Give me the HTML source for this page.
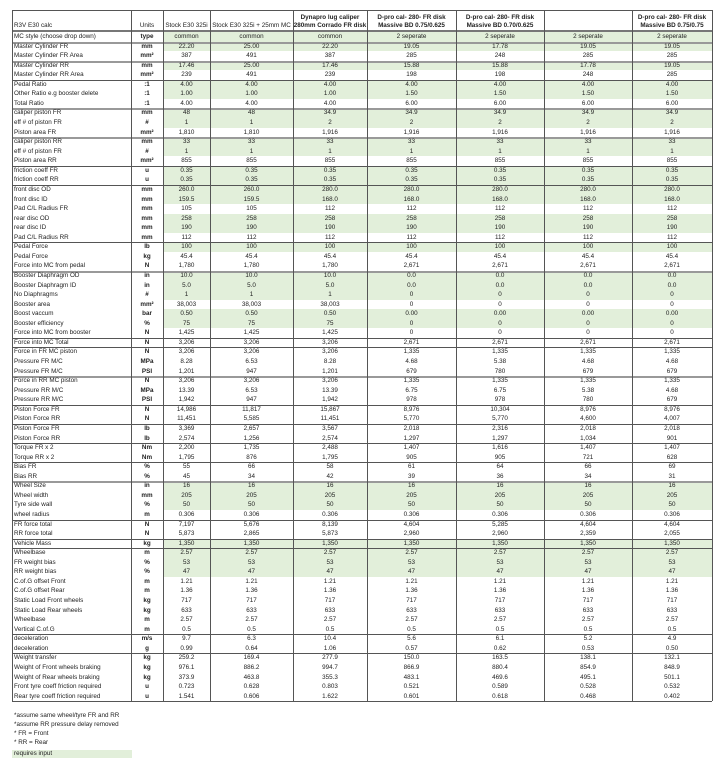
<!DOCTYPE html>
<html><head><meta charset="utf-8"><style>
body{margin:0;background:#fff;width:725px;height:768px;overflow:hidden;position:relative;font-family:"Liberation Sans Narrow","Liberation Sans",sans-serif;color:#222;font-size:6.3px}
.c{position:absolute;white-space:nowrap;overflow:hidden;text-align:center}
.l{text-align:left;padding-left:2px;box-sizing:border-box}
.b{font-weight:bold}
.g{position:absolute;background:#e2efda}
.hl{position:absolute;left:12px;width:700px}
.vl{position:absolute;width:1px;background:#555}
.n{position:absolute;left:14px}
</style></head><body>
<div id="root"></div>
<div class="n" style="top:712px">*assume same wheel/tyre FR and RR</div>
<div class="n" style="top:721px">*assume RR pressure delay removed</div>
<div class="n" style="top:730px">* FR = Front</div>
<div class="n" style="top:739px">* RR = Rear</div>
<div class="n" style="top:750px;left:12px;width:118px;padding-left:2px;height:8px;line-height:8px;background:#e2efda">requires input</div>
<script>
var X=[12,131,163,210,293,367,456,544,632,712];
var R=[
["MC style (choose drop down)","type",1,"",["common","common","common","2 seperate","2 seperate","2 seperate","2 seperate"]],
["Master Cylinder FR","mm",1,"d",["22.20","25.00","22.20","19.05","17.78","19.05","19.05"]],
["Master Cylinder FR Area","mm²",0,"",["387","491","387","285","248","285","285"]],
["Master Cylinder RR","mm",1,"d",["17.46","25.00","17.46","15.88","15.88","17.78","19.05"]],
["Master Cylinder RR Area","mm²",0,"",["239","491","239","198","198","248","285"]],
["Pedal Ratio",":1",1,"s",["4.00","4.00","4.00","4.00","4.00","4.00","4.00"]],
["Other Ratio e.g booster delete",":1",1,"",["1.00","1.00","1.00","1.50","1.50","1.50","1.50"]],
["Total Ratio",":1",0,"",["4.00","4.00","4.00","6.00","6.00","6.00","6.00"]],
["caliper piston FR","mm",1,"d",["48","48","34.9","34.9","34.9","34.9","34.9"]],
["eff # of piston FR","#",1,"",["1","1","2","2","2","2","2"]],
["Piston area FR","mm²",0,"",["1,810","1,810","1,916","1,916","1,916","1,916","1,916"]],
["caliper piston RR","mm",1,"d",["33","33","33","33","33","33","33"]],
["eff # of piston FR","#",1,"",["1","1","1","1","1","1","1"]],
["Piston area RR","mm²",0,"",["855","855","855","855","855","855","855"]],
["friction coeff FR","u",1,"s",["0.35","0.35","0.35","0.35","0.35","0.35","0.35"]],
["friction coeff RR","u",1,"",["0.35","0.35","0.35","0.35","0.35","0.35","0.35"]],
["front disc OD","mm",1,"s",["260.0","260.0","280.0","280.0","280.0","280.0","280.0"]],
["front disc ID","mm",1,"",["159.5","159.5","168.0","168.0","168.0","168.0","168.0"]],
["Pad C/L Radius FR","mm",0,"",["105","105","112","112","112","112","112"]],
["rear disc OD","mm",1,"",["258","258","258","258","258","258","258"]],
["rear disc ID","mm",1,"",["190","190","190","190","190","190","190"]],
["Pad C/L Radius RR","mm",0,"",["112","112","112","112","112","112","112"]],
["Pedal Force","lb",1,"s",["100","100","100","100","100","100","100"]],
["Pedal Force","kg",0,"",["45.4","45.4","45.4","45.4","45.4","45.4","45.4"]],
["Force into MC from pedal","N",0,"",["1,780","1,780","1,780","2,671","2,671","2,671","2,671"]],
["Booster Diaphragm OD","in",1,"d",["10.0","10.0","10.0","0.0","0.0","0.0","0.0"]],
["Booster Diaphragm ID","in",1,"",["5.0","5.0","5.0","0.0","0.0","0.0","0.0"]],
["No Diaphragms","#",1,"",["1","1","1","0","0","0","0"]],
["Booster area","mm²",0,"",["38,003","38,003","38,003","0","0","0","0"]],
["Boost vaccum","bar",1,"",["0.50","0.50","0.50","0.00","0.00","0.00","0.00"]],
["Booster efficiency","%",1,"",["75","75","75","0","0","0","0"]],
["Force into MC from booster","N",0,"",["1,425","1,425","1,425","0","0","0","0"]],
["Force into MC Total","N",0,"s",["3,206","3,206","3,206","2,671","2,671","2,671","2,671"]],
["Force in FR MC piston","N",0,"s",["3,206","3,206","3,206","1,335","1,335","1,335","1,335"]],
["Pressure FR M/C","MPa",0,"",["8.28","6.53","8.28","4.68","5.38","4.68","4.68"]],
["Pressure FR M/C","PSI",0,"",["1,201","947","1,201","679","780","679","679"]],
["Force in RR MC piston","N",0,"d",["3,206","3,206","3,206","1,335","1,335","1,335","1,335"]],
["Pressure RR M/C","MPa",0,"",["13.39","6.53","13.39","6.75","6.75","5.38","4.68"]],
["Pressure RR M/C","PSI",0,"",["1,942","947","1,942","978","978","780","679"]],
["Piston Force FR","N",0,"s",["14,986","11,817","15,867","8,976","10,304","8,976","8,976"]],
["Piston Force RR","N",0,"",["11,451","5,585","11,451","5,770","5,770","4,600","4,007"]],
["Piston Force FR","lb",0,"s",["3,369","2,657","3,567","2,018","2,316","2,018","2,018"]],
["Piston Force RR","lb",0,"",["2,574","1,256","2,574","1,297","1,297","1,034","901"]],
["Torque FR x 2","Nm",0,"s",["2,200","1,735","2,488","1,407","1,616","1,407","1,407"]],
["Torque RR x 2","Nm",0,"",["1,795","876","1,795","905","905","721","628"]],
["Bias FR","%",0,"s",["55","66","58","61","64","66","69"]],
["Bias RR","%",0,"",["45","34","42","39","36","34","31"]],
["Wheel Size","in",1,"d",["16","16","16","16","16","16","16"]],
["Wheel width","mm",1,"",["205","205","205","205","205","205","205"]],
["Tyre side wall","%",1,"",["50","50","50","50","50","50","50"]],
["wheel radius","m",0,"",["0.306","0.306","0.306","0.306","0.306","0.306","0.306"]],
["FR force total","N",0,"s",["7,197","5,676","8,139","4,604","5,285","4,604","4,604"]],
["RR force total","N",0,"",["5,873","2,865","5,873","2,960","2,960","2,359","2,055"]],
["Vehicle Mass","kg",1,"s",["1,350","1,350","1,350","1,350","1,350","1,350","1,350"]],
["Wheelbase","m",1,"s",["2.57","2.57","2.57","2.57","2.57","2.57","2.57"]],
["FR weight bias","%",1,"",["53","53","53","53","53","53","53"]],
["RR weight bias","%",1,"",["47","47","47","47","47","47","47"]],
["C.of.G offset Front","m",0,"",["1.21","1.21","1.21","1.21","1.21","1.21","1.21"]],
["C.of.G offset Rear","m",0,"",["1.36","1.36","1.36","1.36","1.36","1.36","1.36"]],
["Static Load Front wheels","kg",0,"",["717","717","717","717","717","717","717"]],
["Static Load Rear wheels","kg",0,"",["633","633","633","633","633","633","633"]],
["Wheelbase","m",0,"",["2.57","2.57","2.57","2.57","2.57","2.57","2.57"]],
["Vertical C.of.G","m",0,"",["0.5","0.5","0.5","0.5","0.5","0.5","0.5"]],
["deceleration","m/s",0,"s",["9.7","6.3","10.4","5.6","6.1","5.2","4.9"]],
["deceleration","g",0,"",["0.99","0.64","1.06","0.57","0.62","0.53","0.50"]],
["Weight transfer","kg",0,"s",["259.2","169.4","277.9","150.0","163.5","138.1","132.1"]],
["Weight of Front wheels braking","kg",0,"",["976.1","886.2","994.7","866.9","880.4","854.9","848.9"]],
["Weight of Rear wheels braking","kg",0,"",["373.9","463.8","355.3","483.1","469.6","495.1","501.1"]],
["Front tyre coeff friction required","u",0,"",["0.723","0.628","0.803","0.521","0.589","0.528","0.532"]],
["Rear tyre coeff friction required","u",0,"",["1.541","0.606","1.622","0.601","0.618","0.468","0.402"]]
];
var H=9.56,T=32,h="";
function cell(x1,x2,y,ht,txt,cls,lh){return '<div class="c '+cls+'" style="left:'+x1+'px;width:'+(x2-x1)+'px;top:'+y+'px;height:'+ht+'px;line-height:'+lh+'">'+txt+'</div>';}
R.forEach(function(r,i){var y=T+i*H;
 if(r[2])h+='<div class="g" style="left:'+X[2]+'px;width:'+(X[9]-X[2])+'px;top:'+y+'px;height:'+H+'px"></div>';
 if(r[3]=="s")h+='<div class="hl" style="top:'+y+'px;height:1px;background:#555"></div>';
 if(r[3]=="d")h+='<div class="hl" style="top:'+y+'px;height:2px;background:#999"></div>';
 h+=cell(X[0],X[1],y,H,r[0],"l",H+"px");
 h+=cell(X[1],X[2],y,H,r[1],"b",H+"px");
 for(var k=0;k<7;k++)h+=cell(X[k+2],X[k+3],y,H,r[4][k],"",H+"px");
});
var hd=[["R3V E30 calc",""],["Units",""],["Stock E30 325i",""],["Stock E30 325i + 25mm MC",""],["Dynapro lug caliper<br>280mm Corrado FR disk","b"],["D-pro cal- 280- FR disk<br>Massive BD 0.75/0.625","b"],["D-pro cal- 280- FR disk<br>Massive BD 0.70/0.625","b"],["",""],["D-pro cal- 280- FR disk<br>Massive BD 0.75/0.75","b"]];
hd.forEach(function(c,k){var one=c[0].indexOf("<br>")<0;h+='<div class="c '+(k==0?'l ':'')+c[1]+'" style="left:'+X[k]+'px;width:'+(X[k+1]-X[k])+'px;top:'+(one?22:14)+'px;line-height:8px">'+c[0]+'</div>';});
h+='<div class="hl" style="top:10px;height:1px;background:#555"></div>';
h+='<div class="hl" style="top:30px;height:2px;background:#777"></div>';
h+='<div class="hl" style="top:'+Math.round(T+70*H)+'px;height:1px;background:#555"></div>';
X.forEach(function(x){h+='<div class="vl" style="left:'+x+'px;top:10px;height:'+(T+70*H-10)+'px"></div>';});
document.getElementById("root").innerHTML=h;
</script>
</body></html>
